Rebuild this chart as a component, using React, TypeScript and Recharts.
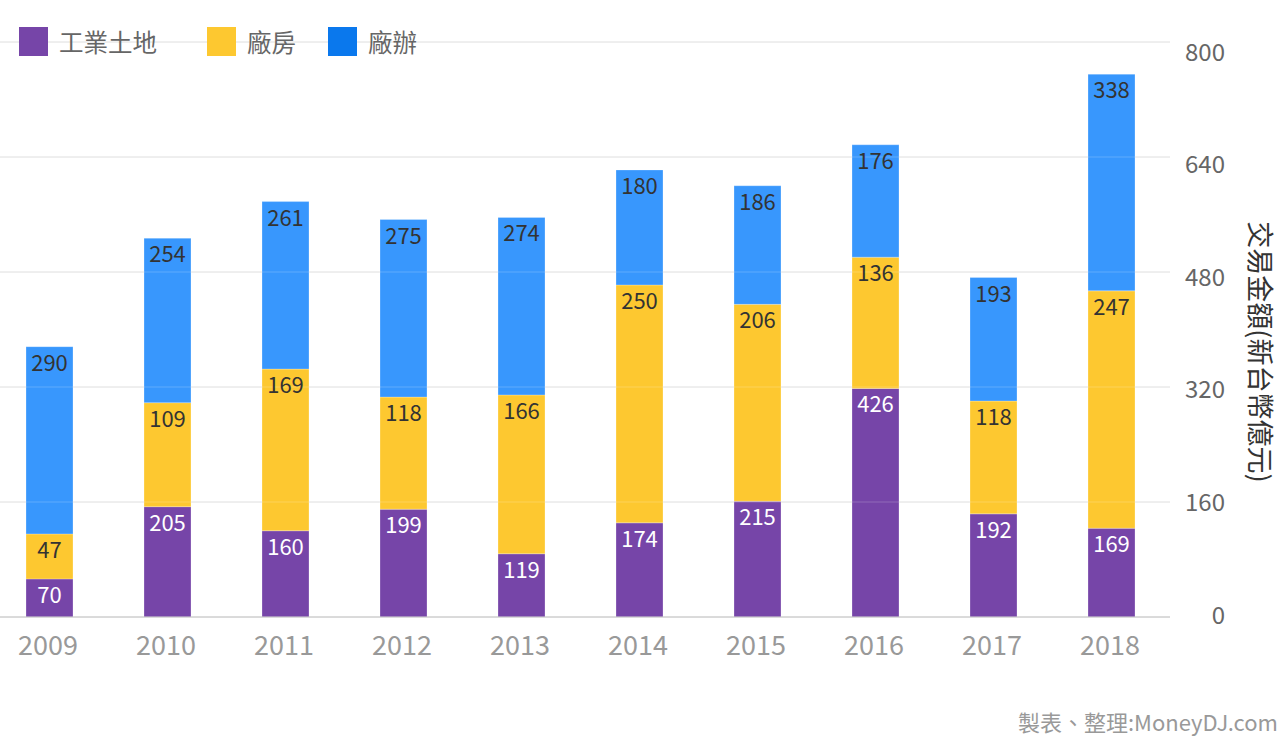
import { BarChart, Bar, XAxis, YAxis, CartesianGrid, LabelList, ReferenceLine } from 'recharts';

// bar heights; label texts as printed on the segments
const years = ['2009', '2010', '2011', '2012', '2013', '2014', '2015', '2016', '2017', '2018'];
const landValues = [53, 153.5, 120, 150, 88, 131, 161, 318, 143.5, 123.5];
const factoryValues = [62.6, 144.7, 225, 156, 221, 331, 274, 182.6, 157, 330.3];
const officeValues = [260.5, 228.8, 233, 247, 247, 160, 165, 156.4, 171.8, 301.4];
const landLabels = [70, 205, 160, 199, 119, 174, 215, 426, 192, 169];
const factoryLabels = [47, 109, 169, 118, 166, 250, 206, 136, 118, 247];
const officeLabels = [290, 254, 261, 275, 274, 180, 186, 176, 193, 338];
const yTicks = [0, 160, 320, 480, 640, 800];

const seriesNames = ['工業土地', '廠房', '廠辦'];
const barColors = ['#7645a8', '#fdc830', '#3897fd'];
const legendColors = ['#7645a8', '#fdc830', '#0a78ed'];

const FONT = "'Noto Sans CJK TC', 'Noto Sans', sans-serif";

const data = years.map((year, i) => ({
  year,
  land: landValues[i],
  factory: factoryValues[i],
  office: officeValues[i],
  landLabel: landLabels[i],
  factoryLabel: factoryLabels[i],
  officeLabel: officeLabels[i],
}));

const segmentLabel = (color: string) => (props: any) => {
  const { x, y, width, value } = props;
  return (
    <text
      x={x + width / 2}
      y={y + 14}
      textAnchor="middle"
      dominantBaseline="central"
      fontSize={22}
      fontFamily={FONT}
      fill={color}
    >
      {value}
    </text>
  );
};

const YearTick = (props: any) => {
  const { x, y, payload } = props;
  return (
    <text x={x - 1} y={y + 26} textAnchor="middle" dominantBaseline="central" fontSize={27} fontFamily={FONT} fill="#999">
      {payload.value}
    </text>
  );
};

const ValueTick = (props: any) => {
  const { x, y, payload } = props;
  const dy = -4 + (12 * payload.value) / 800;
  return (
    <text x={x + 55} y={y + dy} textAnchor="end" dominantBaseline="central" fontSize={24} fontFamily={FONT} fill="#666">
      {payload.value}
    </text>
  );
};

export default function App() {
  return (
    <div style={{ position: 'absolute', left: 0, top: 0, width: 1280, height: 736, overflow: 'hidden', background: '#fff', fontFamily: FONT }}>
      <div style={{ position: 'absolute', left: -10, top: 0 }}>
        <BarChart width={1300} height={736} data={data} margin={{ top: 42, right: 20, bottom: 59, left: 0 }}>
          <CartesianGrid vertical={false} stroke="#dcdcdc" />
          <XAxis
            dataKey="year"
            axisLine={{ stroke: '#c8c8c8' }}
            tickLine={false}
            tickSize={0}
            tickMargin={0}
            height={60}
            tick={<YearTick />}
            interval={0}
          />
          <YAxis
            orientation="right"
            domain={[0, 800]}
            ticks={yTicks}
            axisLine={false}
            tickLine={false}
            tickSize={0}
            tickMargin={0}
            width={100}
            tick={<ValueTick />}
          />
          <Bar dataKey="land" stackId="a" fill={barColors[0]} barSize={47} stroke="rgba(255,255,255,0.25)" isAnimationActive={false}>
            <LabelList dataKey="landLabel" content={segmentLabel('#fff')} />
          </Bar>
          <Bar dataKey="factory" stackId="a" fill={barColors[1]} barSize={47} stroke="rgba(255,255,255,0.25)" isAnimationActive={false}>
            <LabelList dataKey="factoryLabel" content={segmentLabel('#333')} />
          </Bar>
          <Bar dataKey="office" stackId="a" fill={barColors[2]} barSize={47} stroke="rgba(255,255,255,0.25)" isAnimationActive={false}>
            <LabelList dataKey="officeLabel" content={segmentLabel('#333')} />
          </Bar>
          {yTicks.slice(1).map((t) => (
            <ReferenceLine key={t} y={t} stroke="#fff" strokeOpacity={0.2} />
          ))}
        </BarChart>
      </div>

      {/* legend */}
      <div style={{ position: 'absolute', left: 19, top: 27, display: 'flex', alignItems: 'center', height: 29 }}>
        {seriesNames.map((name, i) => (
          <div key={name} style={{ display: 'flex', alignItems: 'center', marginRight: i === 0 ? 50 : 32 }}>
            <span style={{ display: 'inline-block', width: 29, height: 29, background: legendColors[i], marginRight: 11 }} />
            <span style={{ fontSize: 24.5, color: '#666', lineHeight: '29px' }}>{name}</span>
          </div>
        ))}
      </div>

      {/* axis title */}
      <div
        style={{
          position: 'absolute',
          left: 1261,
          top: 352,
          transform: 'translate(-50%, -50%) rotate(90deg)',
          fontSize: 27,
          color: '#333',
          whiteSpace: 'nowrap',
          lineHeight: 1,
        }}
      >
        交易金額(新台幣億元)
      </div>

      <div style={{ position: 'absolute', right: 2, top: 706, fontSize: 22, color: '#999', lineHeight: '30px' }}>
        製表、整理:MoneyDJ.com
      </div>
    </div>
  );
}
